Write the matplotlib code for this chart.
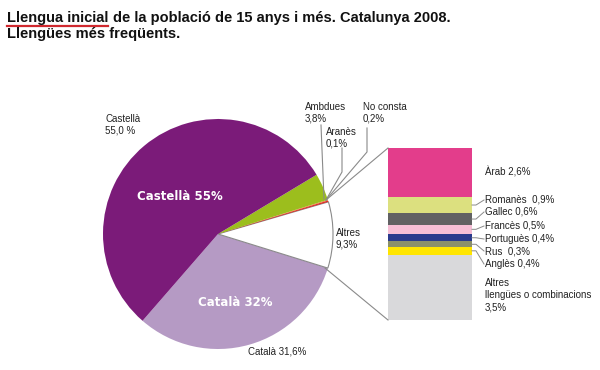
import numpy as np
import matplotlib
matplotlib.use("Agg")
import matplotlib.pyplot as plt

# pie data (order: counter-clockwise starting at lower left)
pie_names = ["Català", "Altres", "No consta", "Aranès", "Ambdues", "Castellà"]
pie_values = [31.6, 9.3, 0.2, 0.1, 3.8, 55.0]
pie_colors = ["#B59AC4", "#FFFFFF", "#E0302A", "#F06A2A", "#9CBE1D", "#7B1B79"]

# breakdown of "Altres" (top to bottom)
sub_names = ["Àrab 2,6%", "Romanès  0,9%", "Gallec 0,6%", "Francès 0,5%",
             "Portuguès 0,4%", "Rus  0,3%", "Anglès 0,4%",
             "Altres\nllengües o combinacions\n3,5%"]
sub_values = [2.6, 0.9, 0.6, 0.5, 0.4, 0.3, 0.4, 3.5]
sub_colors = ["#E33D8B", "#DCE07F", "#616163", "#F6BED6", "#2A3A8D",
              "#8B906A", "#FFE500", "#D9D9DB"]

W, H = 600, 370
fig = plt.figure(figsize=(W / 100, H / 100), dpi=100)
ax = fig.add_axes([0, 0, 1, 1])

def Y(y):
    """image row -> data y"""
    return H - y

FONT = "Liberation Sans"
small = dict(fontsize=7, family=FONT, color="#222222")
LC = "#8a8a8a"

# --- pie ---
cx, cy, r = 218, Y(234), 115
wedges, _ = ax.pie(pie_values, colors=pie_colors, startangle=229,
                   center=(cx, cy), radius=r, counterclock=True,
                   wedgeprops=dict(linewidth=0), frame=True)
wedges[1].set_edgecolor(LC)
wedges[1].set_linewidth(0.8)
ax.set_xlim(0, W)
ax.set_ylim(0, H)
ax.set_aspect("equal")
ax.axis("off")

ax.text(180, Y(197), "Castellà 55%", color="white", fontsize=8.5,
        fontweight="bold", family="DejaVu Sans", ha="center", va="center")
ax.text(235, Y(302), "Català 32%", color="white", fontsize=8.5,
        fontweight="bold", family="DejaVu Sans", ha="center", va="center")

ax.text(105, Y(125), "Castellà\n55,0 %", ha="left", va="center",
        linespacing=1.2, **small)
ax.text(248, Y(352), "Català 31,6%", ha="left", va="center", **small)
ax.text(336, Y(239), "Altres\n9,3%", ha="left", va="center",
        linespacing=1.2, **small)
ax.text(305, Y(113), "Ambdues\n3,8%", ha="left", va="center",
        linespacing=1.2, **small)
ax.text(326, Y(138), "Aranès\n0,1%", ha="left", va="center",
        linespacing=1.2, **small)
ax.text(363, Y(113), "No consta\n0,2%", ha="left", va="center",
        linespacing=1.2, **small)

# leader lines for small slices
tip = (326, Y(200))
ax.plot([321, 324], [Y(125), Y(199)], color=LC, lw=0.8)
ax.plot([342, 342, tip[0]], [Y(148), Y(172), tip[1]], color=LC, lw=0.8)
ax.plot([367, 367, tip[0]], [Y(128), Y(152), tip[1]], color=LC, lw=0.8)

# --- stacked bar for "Altres" ---
bx, bw = 430, 84
top, bottom = Y(148), Y(320)
scale = (top - bottom) / sum(sub_values)
cur = top
mids = []
for v, c in zip(sub_values, sub_colors):
    h = v * scale
    ax.bar(bx, h, width=bw, bottom=cur - h, color=c, linewidth=0)
    mids.append(cur - h / 2)
    cur -= h

# connectors pie -> bar
ax.plot([tip[0], bx - bw / 2], [tip[1], top], color=LC, lw=0.8)
ax.plot([325, bx - bw / 2], [Y(268), bottom], color=LC, lw=0.8)

lab_y = [Y(172), Y(200), Y(212), Y(226), Y(239), Y(251), Y(264), Y(295)]
lx = bx + bw / 2
for i, (name, m, ly) in enumerate(zip(sub_names, mids, lab_y)):
    if 0 < i < 7:
        ax.plot([lx, lx + 4, 484], [m, m, ly], color=LC, lw=0.7)
    ax.text(485, ly, name, ha="left", va="center", linespacing=1.3, **small)

# --- title ---
TS = 10.5
t1 = fig.text(7 / W, 1 - 22 / H, "Llengua inicial", fontsize=TS,
              fontweight="bold", family=FONT, color="#111111", va="baseline")
fig.canvas.draw()
rend = fig.canvas.get_renderer()
bb = t1.get_window_extent(rend)
fig.text(bb.x1 / W + 5 / W, 1 - 22 / H,
         "de la població de 15 anys i més. Catalunya 2008.", fontsize=TS,
         fontweight="bold", family=FONT, color="#111111", va="baseline")
fig.text(7 / W, 1 - 38 / H, "Llengües més freqüents.", fontsize=TS,
         fontweight="bold", family=FONT, color="#111111", va="baseline")
fig.add_artist(plt.Line2D([bb.x0 / W, bb.x1 / W], [1 - 26 / H, 1 - 26 / H],
                          color="#D0282E", lw=1.6, transform=fig.transFigure))

fig.savefig("out.png", dpi=100, facecolor="white")
